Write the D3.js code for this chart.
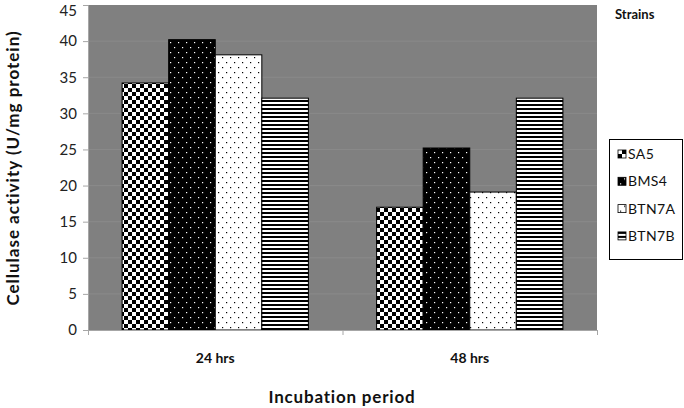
<!DOCTYPE html>
<html><head><meta charset="utf-8">
<script src="https://cdn.jsdelivr.net/npm/d3@7"></script>
<style>body{margin:0;background:#fff}svg{display:block}text{font-family:Lato,"Open Sans",sans-serif}</style>
</head><body><svg id="c" width="684" height="408"></svg>
<script>
const categories = ["24 hrs", "48 hrs"];
const seriesNames = ["SA5", "BMS4", "BTN7A", "BTN7B"];
const SA5 = [34.2, 17.0];
const BMS4 = [40.2, 25.2];
const BTN7A = [38.1, 19.1];
const BTN7B = [32.1, 32.1];
const yTicks = [0, 5, 10, 15, 20, 25, 30, 35, 40, 45];
const seriesValues = [SA5, BMS4, BTN7A, BTN7B];

const svg = d3.select("#c");
const m = {l: 88, r: 597, t: 5, b: 330};
const defs = svg.append("defs");
function pat(id, w, h) {
  return defs.append("pattern").attr("id", id).attr("patternUnits", "userSpaceOnUse")
    .attr("width", w).attr("height", h);
}
let p = pat("p0", 8, 8);
p.append("rect").attr("width", 8).attr("height", 8).attr("fill", "#fff");
p.append("rect").attr("width", 4).attr("height", 4).attr("fill", "#000");
p.append("rect").attr("x", 4).attr("y", 4).attr("width", 4).attr("height", 4).attr("fill", "#000");
p = pat("p1", 8, 10);
p.append("rect").attr("width", 8).attr("height", 10).attr("fill", "#000");
p.append("rect").attr("x", 2).attr("y", 2).attr("width", 1.2).attr("height", 1.2).attr("fill", "#fff");
p.append("rect").attr("x", 6).attr("y", 7).attr("width", 1.2).attr("height", 1.2).attr("fill", "#fff");
p = pat("p2", 8, 10);
p.append("rect").attr("width", 8).attr("height", 10).attr("fill", "#fff");
p.append("rect").attr("x", 2).attr("y", 2).attr("width", 1.2).attr("height", 1.2).attr("fill", "#000");
p.append("rect").attr("x", 6).attr("y", 7).attr("width", 1.2).attr("height", 1.2).attr("fill", "#000");
p = pat("p3", 4, 4);
p.append("rect").attr("width", 4).attr("height", 4).attr("fill", "#fff");
p.append("rect").attr("width", 4).attr("height", 2).attr("fill", "#000");

const x0 = d3.scaleBand().domain(categories).range([m.l, m.r]).paddingInner(0.268).paddingOuter(0.134);
const x1 = d3.scaleBand().domain(seriesNames).range([0, x0.bandwidth()]);
const y = d3.scaleLinear().domain([0, 45]).range([m.b, m.t]);

svg.append("rect").attr("x", m.l).attr("y", m.t).attr("width", m.r - m.l).attr("height", m.b - m.t).attr("fill", "#808080");
svg.append("g").selectAll("line").data(yTicks.slice(1, -1)).join("line")
  .attr("x1", m.l).attr("x2", m.r).attr("y1", d => y(d)).attr("y2", d => y(d))
  .attr("stroke", "#8a8a8a").attr("stroke-width", 1);

const g = svg.append("g");
seriesNames.forEach((s, i) => {
  g.selectAll(".b" + i).data(categories).join("rect")
    .attr("x", c => x0(c) + x1(s)).attr("y", (c, j) => y(seriesValues[i][j]))
    .attr("width", x1.bandwidth()).attr("height", (c, j) => y(0) - y(seriesValues[i][j]))
    .attr("fill", `url(#p${i})`).attr("stroke", "#000").attr("stroke-width", 1);
});

const ya = svg.append("g").attr("transform", `translate(${m.l},0)`)
  .call(d3.axisLeft(y).tickValues(yTicks).tickSize(5).tickPadding(6));
ya.select(".domain").attr("stroke", "#a6a6a6");
ya.selectAll(".tick line").attr("stroke", "#a6a6a6");
ya.selectAll("text").attr("font-size", 15).attr("fill", "#222").style("font-family", "Lato, sans-serif");
ya.selectAll(".tick").filter(d => d === 45).select("text").attr("dy", "0.72em");

const xa = svg.append("g").attr("transform", `translate(0,${m.b})`)
  .call(d3.axisBottom(d3.scaleLinear().domain([0, 2]).range([m.l, m.r])).tickValues([0, 1, 2]).tickSize(5).tickFormat(""));
xa.select(".domain").attr("stroke", "#a6a6a6");
xa.selectAll(".tick line").attr("stroke", "#a6a6a6");

svg.append("g").selectAll("text").data(categories).join("text")
  .attr("x", c => x0(c) + x0.bandwidth() / 2).attr("y", 363).attr("text-anchor", "middle")
  .attr("font-size", 14).attr("font-weight", "bold").attr("fill", "#111").text(c => c);

svg.append("text").attr("x", 342).attr("y", 403).attr("text-anchor", "middle")
  .attr("font-size", 17).attr("font-weight", "bold").attr("letter-spacing", 0.8).attr("fill", "#111").text("Incubation period");
svg.append("text").attr("transform", "translate(19,168) rotate(-90)").attr("text-anchor", "middle")
  .attr("font-size", 17).attr("font-weight", "bold").attr("letter-spacing", 1).attr("fill", "#111").text("Cellulase activity (U/mg protein)");
svg.append("text").attr("x", 615).attr("y", 19).attr("font-size", 13).attr("font-weight", "bold").attr("fill", "#111").text("Strains");

svg.append("rect").attr("x", 609.5).attr("y", 139.5).attr("width", 73).attr("height", 120)
  .attr("fill", "#fff").attr("stroke", "#000");
const lg = svg.append("g").selectAll("g").data(seriesNames).join("g")
  .attr("transform", (d, i) => `translate(618,${154 + i * 27.3})`);
lg.append("rect").attr("x", 0).attr("y", -4).attr("width", 8).attr("height", 8)
  .attr("fill", (d, i) => `url(#p${i})`).attr("stroke", "#000").attr("stroke-width", 0.8);
lg.append("text").attr("x", 10).attr("y", 5).attr("font-size", 14).attr("letter-spacing", 0.4).attr("fill", "#111").text(d => d);
</script></body></html>
